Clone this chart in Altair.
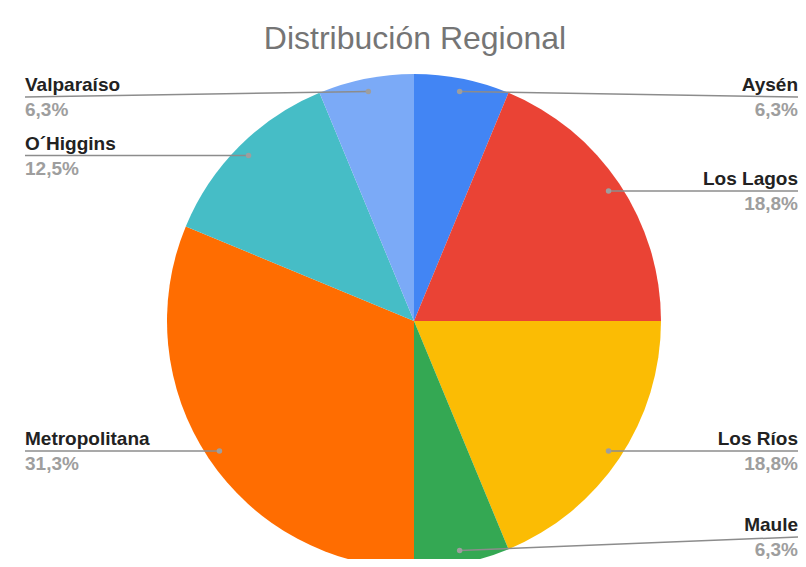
import math
import pandas as pd
import altair as alt

# ---- data ----
names = ["Aysén", "Los Lagos", "Los Ríos", "Maule", "Metropolitana", "O´Higgins", "Valparaíso"]
counts = [1, 3, 3, 1, 5, 2, 1]
pct_labels = ["6,3%", "18,8%", "18,8%", "6,3%", "31,3%", "12,5%", "6,3%"]
colors = ["#4285F4", "#EA4335", "#FBBC04", "#34A853", "#FF6D01", "#46BDC6", "#7BAAF7"]
title_text = "Distribución Regional"

# ---- layout constants ----
W, H = 790, 551
CX, CY = 406, 313        # pie centre
R = 247                  # pie radius
RD = 234                 # radius of leader dots
X_RIGHT, X_LEFT = 790, 17
Y_MIN, Y_MAX = CY - 224, CY + 216

total = sum(counts)
rows = []
cum = 0
for i, (n, c, p) in enumerate(zip(names, counts, pct_labels)):
    mid = (cum + c / 2) / total
    cum += c
    a = 2 * math.pi * mid
    dx = CX + RD * math.sin(a)
    dy = CY - RD * math.cos(a)
    right = math.sin(a) > 0
    ly = min(max(dy, Y_MIN), Y_MAX)
    rows.append(dict(idx=i, name=n, count=c, pct=p, dot_x=dx, dot_y=dy,
                     end_x=X_RIGHT if right else X_LEFT, label_y=ly,
                     name_y=ly - 6, pct_y=ly + 19,
                     align="right" if right else "left"))
df = pd.DataFrame(rows)

xs = alt.Scale(domain=[0, W], range=[0, W])
ys = alt.Scale(domain=[0, H], range=[0, H])

base = alt.Chart(df)

arc = base.mark_arc(radius=R, strokeWidth=0).encode(
    theta=alt.Theta("count:Q", stack=True),
    color=alt.Color("name:N", scale=alt.Scale(domain=names, range=colors), legend=None),
    order=alt.Order("idx:Q"),
    x=alt.value(CX),
    y=alt.value(CY),
)

rules = base.mark_rule(color="#8c8c8c", strokeWidth=1.5).encode(
    x=alt.X("dot_x:Q", scale=xs, axis=None),
    y=alt.Y("dot_y:Q", scale=ys, axis=None),
    x2="end_x:Q",
    y2="label_y:Q",
)

dots = base.mark_circle(size=30, color="#9e9e9e", opacity=1).encode(
    x=alt.X("dot_x:Q", scale=xs, axis=None),
    y=alt.Y("dot_y:Q", scale=ys, axis=None),
)

def label_layer(field, ycol, color):
    layers = []
    for side in ["right", "left"]:
        layers.append(
            base.transform_filter(alt.datum.align == side)
            .mark_text(align=side, baseline="alphabetic", font="Liberation Sans",
                       fontSize=19, fontWeight="bold", color=color)
            .encode(
                x=alt.X("end_x:Q", scale=xs, axis=None),
                y=alt.Y(f"{ycol}:Q", scale=ys, axis=None),
                text=f"{field}:N",
            )
        )
    return layers

name_layers = label_layer("name", "name_y", "#222222")
pct_layers = label_layer("pct", "pct_y", "#9e9e9e")

title = alt.Chart(pd.DataFrame({"t": [title_text]})).mark_text(
    align="center", baseline="alphabetic", font="Liberation Sans",
    fontSize=32, color="#757575"
).encode(x=alt.value(CX + 1), y=alt.value(41), text="t:N")

chart = alt.layer(arc, rules, dots, *name_layers, *pct_layers, title).properties(
    width=W, height=H, padding=0, autosize="none"
).configure_view(stroke=None)

chart.save("out.html", embed_options={"renderer": "svg", "actions": False})
